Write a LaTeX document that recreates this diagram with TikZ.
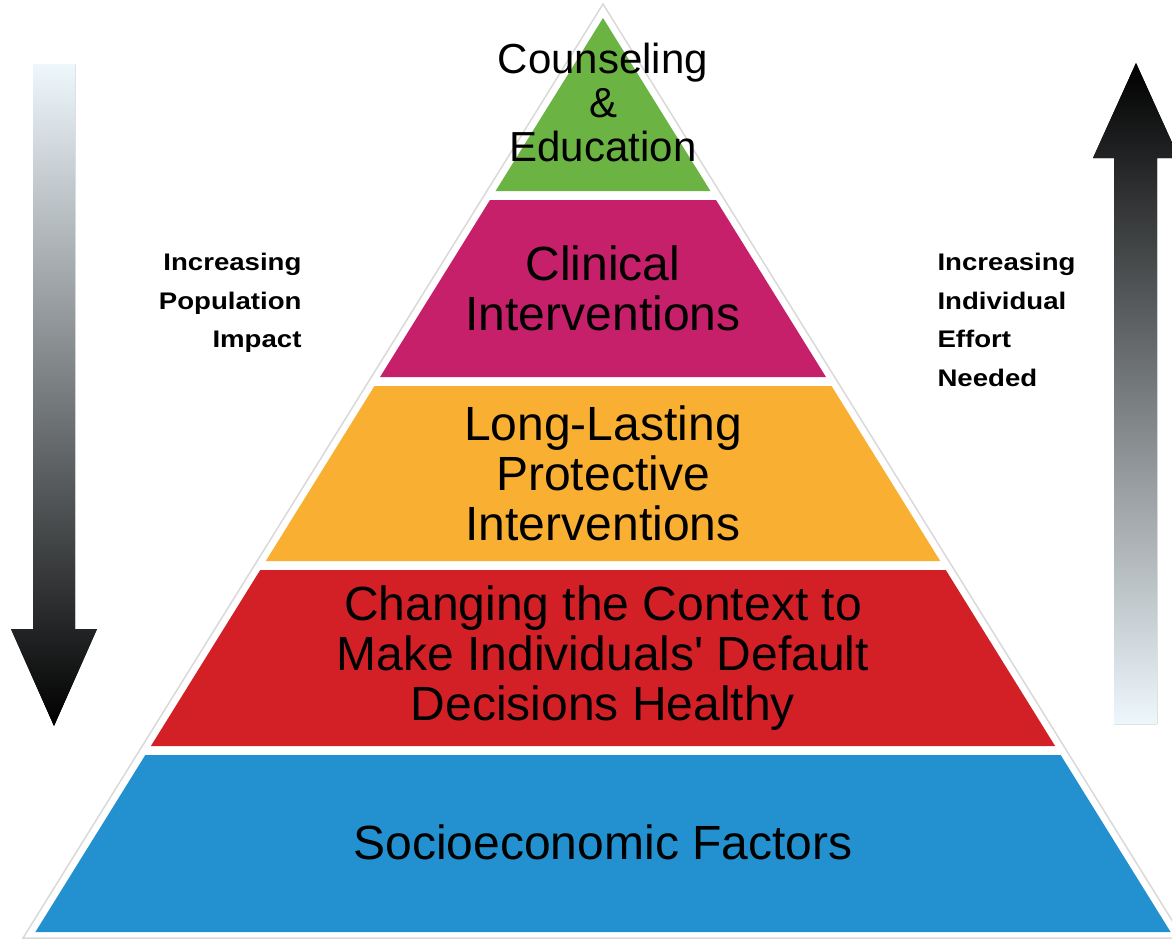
\documentclass[tikz,border=0pt]{standalone}
\usepackage{fontspec}
\setmainfont{Liberation Sans}
\newfontfamily\sidefont[FakeStretch=1.15]{Liberation Sans}
\usepackage{xcolor}
\definecolor{tipgreen}{HTML}{6BB342}
\definecolor{clinmagenta}{HTML}{C6206B}
\definecolor{protorange}{HTML}{F9AF32}
\definecolor{contextred}{HTML}{D32027}
\definecolor{sociblue}{HTML}{2391CF}
\definecolor{palesky}{HTML}{EEF7FC}

\begin{document}
\begin{tikzpicture}[
    x=1pt, y=-1pt,
    tier/.style={font=\fontsize{48}{50}\selectfont, align=center, text=black},
    sidenote/.style={font=\sidefont\bfseries\fontsize{24}{38.5}\selectfont},
    bigarrow/.style={draw=none}]
  \useasboundingbox (0,0) rectangle (1172,940);
  \clip (0,0) rectangle (1172,940);
  % white rim round the pyramid
  \filldraw[fill=white, draw=black!15, line width=1.5pt]
      (603,4) -- (1183,938) -- (23,938) -- cycle;
  % the five tiers
  \foreach \ya/\yb/\col in {18/191/tipgreen, 200/377/clinmagenta,
      386/561/protorange, 570/746/contextred, 755/932/sociblue}{
    \fill[\col] ({603-0.621*(\ya-18)},\ya) -- ({603+0.621*(\ya-18)},\ya)
      -- ({603+0.621*(\yb-18)},\yb) -- ({603-0.621*(\yb-18)},\yb) -- cycle;
  }
  \node[tier, font=\fontsize{42}{44}\selectfont] (counsel) at (603,102)
      {Counseling\\\&\\Education};
  \node[tier] (clinical) at (603,288) {Clinical\\Interventions};
  \node[tier] (protect) at (603,473) {Long-Lasting\\Protective\\Interventions};
  \node[tier] (context) at (603,658)
      {Changing the Context to\\Make Individuals\textquotesingle{} Default\\Decisions Healthy};
  \node[tier] (socio) at (603,842) {Socioeconomic Factors};
  % side arrows
  \fill[bigarrow, top color=palesky, bottom color=black]
      (33,64) -- (75,64) -- (75,629) -- (97,629) -- (54,726)
      -- (11,629) -- (33,629) -- cycle;
  \fill[bigarrow, top color=black, bottom color=palesky]
      (1114,724) -- (1114,158) -- (1093,158) -- (1136,63)
      -- (1179,158) -- (1157,158) -- (1157,724) -- cycle;
  \node[sidenote, align=right, anchor=east] (popimpact) at (305,303)
      {Increasing\\Population\\Impact};
  \node[sidenote, align=left, anchor=west] (effort) at (934,320)
      {Increasing\\Individual\\Effort\\Needed};
\end{tikzpicture}
\end{document}
